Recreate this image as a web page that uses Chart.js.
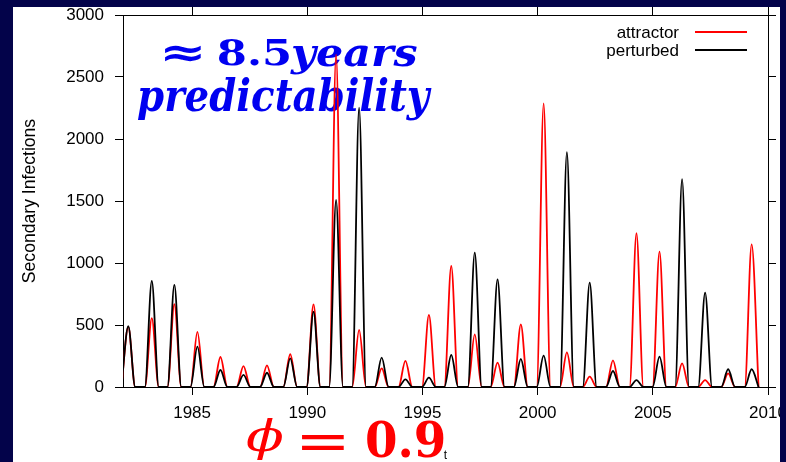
<!DOCTYPE html>
<html>
<head>
<meta charset="utf-8">
<script src="https://cdn.jsdelivr.net/npm/chart.js@4/dist/chart.umd.min.js"></script>
<style>
  html, body { margin: 0; padding: 0; background: #03034a; }
  canvas { display: block; }
</style>
</head>
<body>
<canvas id="c" width="786" height="462"></canvas>
<script>
// Yearly outbreak peaks (time of peak, in years) and their heights for the two runs
const peakYears = [1982.23, 1983.25, 1984.23, 1985.23, 1986.23, 1987.23, 1988.25, 1989.26,
                   1990.27, 1991.25, 1992.25, 1993.23, 1994.26, 1995.28, 1996.25, 1997.27,
                   1998.26, 1999.27, 2000.26, 2001.27, 2002.26, 2003.27, 2004.29, 2005.29,
                   2006.27, 2007.27, 2008.27, 2009.29];
const attractorPeaks = [485, 556, 669, 444, 242, 169, 175, 264,
                        667, 2680, 460, 150, 210, 581, 976, 425,
                        196, 505, 2288, 280, 83, 215, 1240, 1091,
                        191, 56, 110, 1151];
const perturbedPeaks = [490, 855, 823, 325, 137, 97, 115, 231,
                        607, 1508, 2253, 237, 62, 75, 258, 1083,
                        868, 226, 253, 1893, 841, 129, 56, 245,
                        1677, 761, 143, 143];
const troughLevel = 0;

const xTicks = [1985, 1990, 1995, 2000, 2005, 2010];
const yTicks = [0, 500, 1000, 1500, 2000, 2500, 3000];
const seriesNames = ['attractor', 'perturbed'];

const NAVY = '#03034a';
const RED = '#ff0000';
const BLACK = '#000000';
const BLUE = '#0000f0';
const halfBase = 0.3; // half-width of an outbreak at its base, in years

function outbreakSeries(peaks) {
  const pts = [];
  peakYears.forEach((t, i) => {
    pts.push({ x: t - halfBase, y: troughLevel });
    pts.push({ x: t, y: peaks[i] });
    pts.push({ x: t + halfBase, y: troughLevel });
  });
  return pts;
}

// Draw a piece of text stretched so its ink fills the given box [x0, y0, x1, y1]
function drawInBox(ctx, text, font, color, box) {
  ctx.save();
  ctx.font = font;
  ctx.textAlign = 'left';
  ctx.textBaseline = 'alphabetic';
  const m = ctx.measureText(text);
  const w = m.actualBoundingBoxLeft + m.actualBoundingBoxRight;
  const h = m.actualBoundingBoxAscent + m.actualBoundingBoxDescent;
  ctx.translate(box[0], box[1]);
  ctx.scale((box[2] - box[0]) / w, (box[3] - box[1]) / h);
  ctx.fillStyle = color;
  ctx.fillText(text, m.actualBoundingBoxLeft, m.actualBoundingBoxAscent);
  ctx.restore();
}

const panel = {
  id: 'panel',
  beforeDraw(chart) {
    const ctx = chart.ctx;
    ctx.save();
    ctx.fillStyle = NAVY;
    ctx.fillRect(0, 0, chart.width, chart.height);
    ctx.fillStyle = '#ffffff';
    ctx.fillRect(13, 7, 767, 455);
    ctx.restore();
  },
  beforeDatasetsDraw(chart) {
    const ctx = chart.ctx;
    drawInBox(ctx, '\u2248', 'bold 40px "DejaVu Serif"', BLUE, [165, 45, 202, 62]);
    drawInBox(ctx, '8.5', 'bold 40px "DejaVu Serif"', BLUE, [219, 38, 289, 66]);
    drawInBox(ctx, 'years', 'bold italic 40px "DejaVu Serif"', BLUE, [290, 46, 417, 75]);
    drawInBox(ctx, 'predictability', 'bold italic 40px "DejaVu Serif"', BLUE, [138, 78, 432, 121]);
  },
  afterDraw(chart) {
    const ctx = chart.ctx;
    ctx.save();
    // navy frame around the white panel
    ctx.fillStyle = NAVY;
    ctx.fillRect(0, 0, chart.width, 7);
    ctx.fillRect(0, 0, 13, chart.height);
    ctx.fillRect(780, 0, chart.width - 780, chart.height);

    // legend, labels on the left and line samples on the right
    const colors = [RED, BLACK];
    const rows = [32, 50];
    ctx.font = '17px "Liberation Sans", Arial, sans-serif';
    ctx.textAlign = 'right';
    ctx.textBaseline = 'middle';
    seriesNames.forEach((name, i) => {
      ctx.fillStyle = BLACK;
      ctx.fillText(name, 679, rows[i] + 1);
      ctx.strokeStyle = colors[i];
      ctx.lineWidth = 1.8;
      ctx.beginPath();
      ctx.moveTo(695, rows[i]);
      ctx.lineTo(747, rows[i]);
      ctx.stroke();
    });
    ctx.restore();

    drawInBox(ctx, '\u03D5', 'italic 48px "DejaVu Serif"', RED, [246, 418, 283, 460]);
    drawInBox(ctx, '=', '48px "DejaVu Serif"', RED, [302, 434, 345, 450]);
    drawInBox(ctx, '0.9', 'bold 48px "DejaVu Serif"', RED, [367, 420, 444, 458]);
  }
};

const tickFont = { family: '"Liberation Sans", Arial, sans-serif', size: 17 };
const setTicks = (values) => (scale) => { scale.ticks = values.map(v => ({ value: v })); };
const plainLabel = (v) => String(v);

new Chart(document.getElementById('c'), {
  type: 'line',
  data: {
    datasets: [
      {
        label: seriesNames[0],
        data: outbreakSeries(attractorPeaks),
        borderColor: RED,
        borderWidth: 1.8,
        pointRadius: 0,
        fill: false,
        cubicInterpolationMode: 'monotone',
        order: 1
      },
      {
        label: seriesNames[1],
        data: outbreakSeries(perturbedPeaks),
        borderColor: BLACK,
        borderWidth: 1.8,
        pointRadius: 0,
        fill: false,
        cubicInterpolationMode: 'monotone',
        order: 0
      }
    ]
  },
  options: {
    responsive: false,
    animation: false,
    events: [],
    layout: { padding: { top: 15, right: 18, bottom: 0, left: 0 } },
    plugins: { legend: { display: false }, tooltip: { enabled: false } },
    scales: {
      x: {
        type: 'linear', position: 'bottom', min: 1982, max: 2010,
        afterBuildTicks: setTicks(xTicks),
        afterFit(s) { s.height = 75; s.paddingLeft = 0; s.paddingRight = 0; },
        ticks: { font: tickFont, color: BLACK, padding: 8, maxRotation: 0, autoSkip: false, callback: plainLabel },
        grid: { drawOnChartArea: false, tickLength: 8, color: BLACK, tickWidth: 1 },
        border: { display: true, color: BLACK, width: 1 },
        title: { display: true, text: 't', color: BLACK,
                 font: { family: '"Liberation Sans", Arial, sans-serif', size: 12, lineHeight: 1 },
                 padding: { top: 0, bottom: 0 } }
      },
      x2: {
        type: 'linear', axis: 'x', position: 'top', min: 1982, max: 2010,
        afterBuildTicks: setTicks(xTicks),
        afterFit(s) { s.height = 0; s.paddingLeft = 0; s.paddingRight = 0; },
        ticks: { display: false },
        grid: { drawOnChartArea: false, tickLength: 8, color: BLACK },
        border: { display: true, color: BLACK, width: 1 }
      },
      y: {
        type: 'linear', position: 'left', min: 0, max: 3000,
        afterBuildTicks: setTicks(yTicks),
        afterFit(s) { s.width = 123; s.paddingTop = 0; s.paddingBottom = 0; },
        ticks: { font: tickFont, color: BLACK, padding: 11, callback: plainLabel },
        grid: { drawOnChartArea: false, tickLength: 8, color: BLACK },
        border: { display: true, color: BLACK, width: 1 },
        title: { display: true, text: 'Secondary Infections', color: BLACK,
                 font: { family: '"Liberation Sans", Arial, sans-serif', size: 17.6 },
                 padding: { top: 20, bottom: 0 } }
      },
      y2: {
        type: 'linear', axis: 'y', position: 'right', min: 0, max: 3000,
        afterBuildTicks: setTicks(yTicks),
        afterFit(s) { s.width = 0; s.paddingTop = 0; s.paddingBottom = 0; },
        ticks: { display: false },
        grid: { drawOnChartArea: false, tickLength: 8, color: BLACK },
        border: { display: true, color: BLACK, width: 1 }
      }
    }
  },
  plugins: [panel]
});
</script>
</body>
</html>
